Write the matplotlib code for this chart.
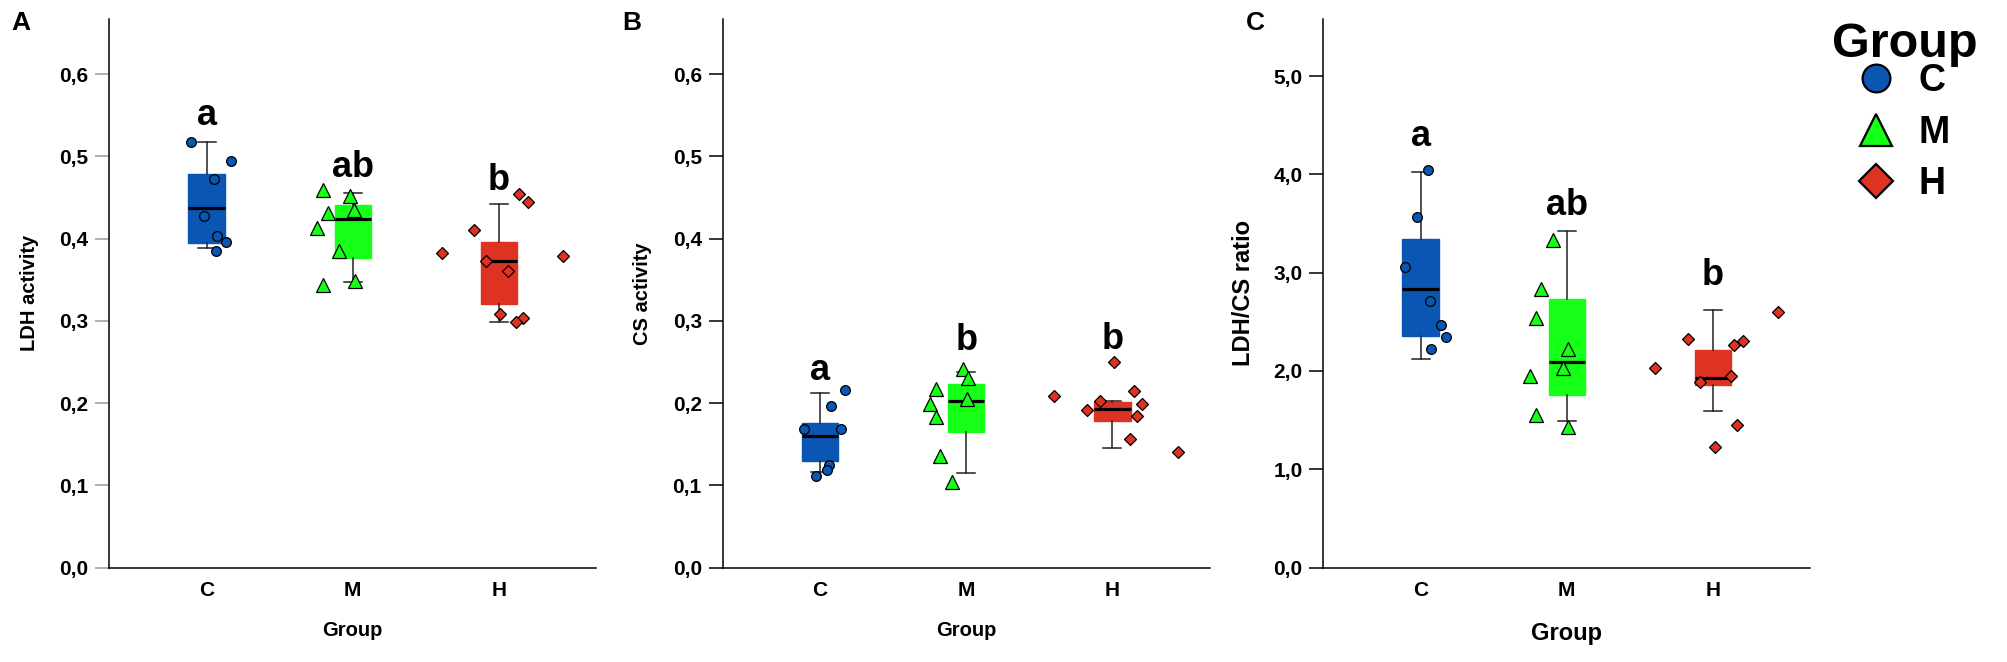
import matplotlib
matplotlib.use("Agg")
import matplotlib.pyplot as plt
from matplotlib.lines import Line2D

plt.rcParams['font.family'] = ['Liberation Sans', 'DejaVu Sans']
plt.rcParams['font.weight'] = 'bold'

groups = ['C', 'M', 'H']
colors = ['#0a56b2', '#16ff16', '#de3322']
markers = ['o', '^', 'D']
msizes = [7, 9.5, 6.3]

# y ticks
act_ticks = [0.0, 0.1, 0.2, 0.3, 0.4, 0.5, 0.6]
act_labels = ['0,0', '0,1', '0,2', '0,3', '0,4', '0,5', '0,6']
ratio_ticks = [0.0, 1.0, 2.0, 3.0, 4.0, 5.0]
ratio_labels = ['0,0', '1,0', '2,0', '3,0', '4,0', '5,0']

# ---- panel A: LDH activity ----
ldh_c = [0.518, 0.494, 0.472, 0.427, 0.403, 0.396, 0.385]
ldh_c_dx = [-0.108, 0.167, 0.047, -0.022, 0.068, 0.135, 0.061]
ldh_m = [0.459, 0.452, 0.431, 0.435, 0.413, 0.385, 0.344, 0.348]
ldh_m_dx = [-0.207, -0.022, -0.171, 0.011, -0.245, -0.093, -0.207, 0.016]
ldh_h = [0.383, 0.410, 0.454, 0.444, 0.379, 0.373, 0.361, 0.308, 0.303, 0.299]
ldh_h_dx = [-0.391, -0.173, 0.139, 0.196, 0.441, -0.089, 0.064, 0.007, 0.166, 0.114]
ldh_q1 = [0.395, 0.376, 0.321]
ldh_med = [0.437, 0.424, 0.373]
ldh_q3 = [0.479, 0.441, 0.396]
ldh_lo = [0.389, 0.347, 0.298]
ldh_hi = [0.518, 0.456, 0.442]
ldh_letters = ['a', 'ab', 'b']
ldh_letter_y = [0.538, 0.475, 0.459]

# ---- panel B: CS activity ----
cs_c = [0.216, 0.196, 0.169, 0.168, 0.125, 0.118, 0.111]
cs_c_dx = [0.167, 0.071, -0.110, 0.142, 0.062, 0.046, -0.025]
cs_m = [0.241, 0.231, 0.217, 0.205, 0.199, 0.183, 0.136, 0.104]
cs_m_dx = [-0.023, 0.014, -0.206, 0.007, -0.250, -0.209, -0.177, -0.095]
cs_h = [0.250, 0.209, 0.215, 0.203, 0.199, 0.192, 0.184, 0.156, 0.141]
cs_h_dx = [0.014, -0.397, 0.147, -0.085, 0.204, -0.171, 0.170, 0.119, 0.449]
cs_q1 = [0.130, 0.165, 0.178]
cs_med = [0.160, 0.203, 0.193]
cs_q3 = [0.176, 0.223, 0.201]
cs_lo = [0.116, 0.115, 0.145]
cs_hi = [0.212, 0.238, 0.203]
cs_letters = ['a', 'b', 'b']
cs_letter_y = [0.228, 0.264, 0.266]

# ---- panel C: LDH/CS ratio ----
rat_c = [4.04, 3.57, 3.06, 2.71, 2.47, 2.34, 2.22]
rat_c_dx = [0.049, -0.024, -0.109, 0.063, 0.138, 0.170, 0.072]
rat_m = [3.33, 2.83, 2.54, 2.22, 2.03, 1.95, 1.55, 1.43]
rat_m_dx = [-0.096, -0.176, -0.208, 0.007, -0.023, -0.249, -0.208, 0.007]
rat_h = [2.60, 2.03, 2.32, 2.26, 2.30, 1.95, 1.89, 1.45, 1.23]
rat_h_dx = [0.445, -0.399, -0.170, 0.146, 0.203, 0.121, -0.086, 0.168, 0.017]
rat_q1 = [2.36, 1.75, 1.86]
rat_med = [2.83, 2.09, 1.93]
rat_q3 = [3.34, 2.73, 2.21]
rat_lo = [2.12, 1.49, 1.59]
rat_hi = [4.02, 3.42, 2.62]
rat_letters = ['a', 'ab', 'b']
rat_letter_y = [4.29, 3.59, 2.87]


def draw_panel(ax, pts, dxs, q1, med, q3, lo, hi, letters, letter_y,
               ticks, ticklabels, ymax, ylabel, labsize, tickcol):
    stats = []
    for i in range(3):
        stats.append(dict(q1=q1[i], med=med[i], q3=q3[i],
                          whislo=lo[i], whishi=hi[i], fliers=[]))
    bp = ax.bxp(stats, positions=[0, 1, 2], widths=0.25, patch_artist=True,
                showfliers=False,
                medianprops=dict(color='black', lw=2.3),
                whiskerprops=dict(color='#222222', lw=1.1),
                capprops=dict(color='#222222', lw=1.1))
    for patch, c in zip(bp['boxes'], colors):
        patch.set_facecolor(c)
        patch.set_edgecolor(c)
    for i in range(3):
        ax.plot([i + d for d in dxs[i]], pts[i], ls='none', marker=markers[i],
                ms=msizes[i], mfc=colors[i], mec='black', mew=0.9, zorder=4)
        ax.text(i, letter_y[i], letters[i], ha='center', va='baseline',
                fontsize=26, fontweight='bold')

    ax.set_xlim(-0.667, 2.667)
    ax.set_ylim(0, ymax)
    ax.set_xticks([0, 1, 2])
    ax.set_xticklabels(groups)
    ax.set_yticks(ticks)
    ax.set_yticklabels(ticklabels)
    ax.spines['top'].set_visible(False)
    ax.spines['right'].set_visible(False)
    for s in ['left', 'bottom']:
        ax.spines[s].set_linewidth(1.1)
    ax.tick_params(axis='y', length=10, width=1.1, pad=5, labelsize=15,
                   color=tickcol)
    ax.tick_params(axis='x', length=0, pad=10, labelsize=15)

    ax.set_ylabel(ylabel, fontsize=labsize, fontweight='bold')
    ax.yaxis.label.set_va('center')
    ax.yaxis.set_label_coords(-80 / 487, 0.5)
    ax.set_xlabel('Group', fontsize=labsize, fontweight='bold')
    ax.xaxis.label.set_va('center')
    ax.xaxis.set_label_coords(0.5, -63 / 548.5)


fig = plt.figure(figsize=(20.08, 6.62), dpi=100)
W, H = 2008, 662
bottom = 1 - 567.5 / H
height = 548.5 / H
width = 487 / W

axA = fig.add_axes([109.3 / W, bottom, width, height])
axB = fig.add_axes([722.7 / W, bottom, width, height])
axC = fig.add_axes([1323.3 / W, bottom, width, height])

draw_panel(axA, [ldh_c, ldh_m, ldh_h], [ldh_c_dx, ldh_m_dx, ldh_h_dx],
           ldh_q1, ldh_med, ldh_q3, ldh_lo, ldh_hi, ldh_letters, ldh_letter_y,
           act_ticks, act_labels, 0.667, 'LDH activity', 14.5, '#9a9a9a')
draw_panel(axB, [cs_c, cs_m, cs_h], [cs_c_dx, cs_m_dx, cs_h_dx],
           cs_q1, cs_med, cs_q3, cs_lo, cs_hi, cs_letters, cs_letter_y,
           act_ticks, act_labels, 0.667, 'CS activity', 14.5, 'black')
draw_panel(axC, [rat_c, rat_m, rat_h], [rat_c_dx, rat_m_dx, rat_h_dx],
           rat_q1, rat_med, rat_q3, rat_lo, rat_hi, rat_letters, rat_letter_y,
           ratio_ticks, ratio_labels, 5.58, 'LDH/CS ratio', 17, 'black')
axC.xaxis.set_label_coords(0.5, -66 / 548.5)

# panel letters
for xpix, lab in [(21, 'A'), (632, 'B'), (1255, 'C')]:
    fig.text(xpix / W, 1 - 23 / H, lab, ha='center', va='center',
             fontsize=19, fontweight='bold')

# legend: title as text, entries as a legend
fig.text(1905 / W, 1 - 57 / H, 'Group', ha='center', va='baseline',
         fontsize=35, fontweight='bold')
leg_sizes = [20, 23, 17.5]
handles = [Line2D([], [], ls='none', marker=m, ms=s, mfc=c, mec='black', mew=1.6)
           for m, s, c in zip(markers, leg_sizes, colors)]
fig.legend(handles, groups, loc='upper left',
           bbox_to_anchor=(1857 / W, 1 - 63 / H), frameon=False,
           prop=dict(size=27, weight='bold'),
           handlelength=1.0, handletextpad=0.65, labelspacing=0.42,
           borderpad=0, borderaxespad=0)

fig.savefig('out.png', dpi=100)
